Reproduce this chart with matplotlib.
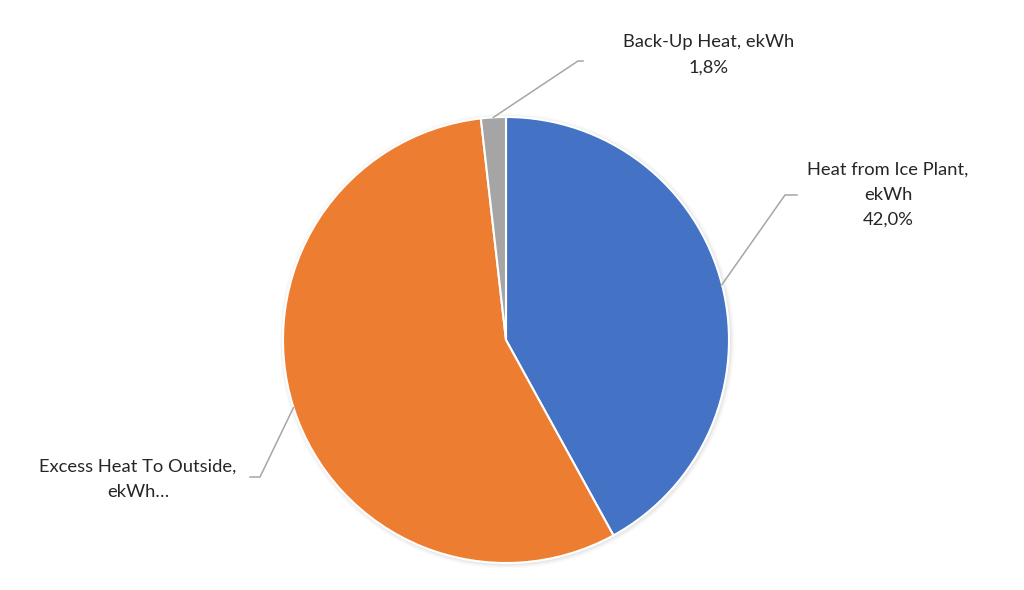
import numpy as np
import matplotlib
matplotlib.use("Agg")
import matplotlib.pyplot as plt

categories = ["Heat from Ice Plant, ekWh", "Excess Heat To Outside, ekWh", "Back-Up Heat, ekWh"]
values = [42.0, 56.2, 1.8]
label_texts = ["Heat from Ice Plant,\nekWh\n42,0%", "Excess Heat To Outside,\nekWh…", "Back-Up Heat, ekWh\n1,8%"]

colors = ["#4472C4", "#ED7D31", "#A5A5A5"]
plt.rcParams['font.family'] = ['Lato', 'DejaVu Sans']

fig = plt.figure(figsize=(10.24, 5.9), dpi=100)
ax = fig.add_axes([0, 0, 1, 1])
ax.set_xlim(0, 1024)
ax.set_ylim(0, 590)
ax.set_aspect('equal')
ax.axis('off')

cx, cy, R = 506, 250, 223
# subtle shadow
for i, a in enumerate([0.04, 0.03, 0.02]):
    ax.add_patch(plt.Circle((cx + 1, cy - 1), R + 1.5 + i * 1.5, color='black', alpha=a, lw=0, zorder=0))

wedges, _ = ax.pie(values, colors=colors, startangle=90, counterclock=False,
                   center=(cx, cy), radius=R, frame=True,
                   wedgeprops=dict(edgecolor='white', linewidth=1.5))
ax.set_xlim(0, 1024)
ax.set_ylim(0, 590)
ax.axis('off')

# leader elbow and label positions (pixel coords, y up)
elbows = [((785, 395), (797, 395)), ((260, 113), (250, 113)), ((578, 529), (583, 529))]
text_pos = [(888, 395), (138, 111), (709, 535)]

for w, (e1, e2), tp, txt in zip(wedges, elbows, text_pos, label_texts):
    ang = np.deg2rad((w.theta1 + w.theta2) / 2)
    sx, sy = cx + R * np.cos(ang), cy + R * np.sin(ang)
    ax.plot([sx, e1[0], e2[0]], [sy, e1[1], e2[1]], color='#A6A6A6', lw=1.1, zorder=3)
    ax.text(tp[0], tp[1], txt, ha='center', va='center', fontsize=13.2,
            color='#262626', linespacing=1.7, zorder=4)

fig.savefig("out.png", dpi=100, facecolor='white')
